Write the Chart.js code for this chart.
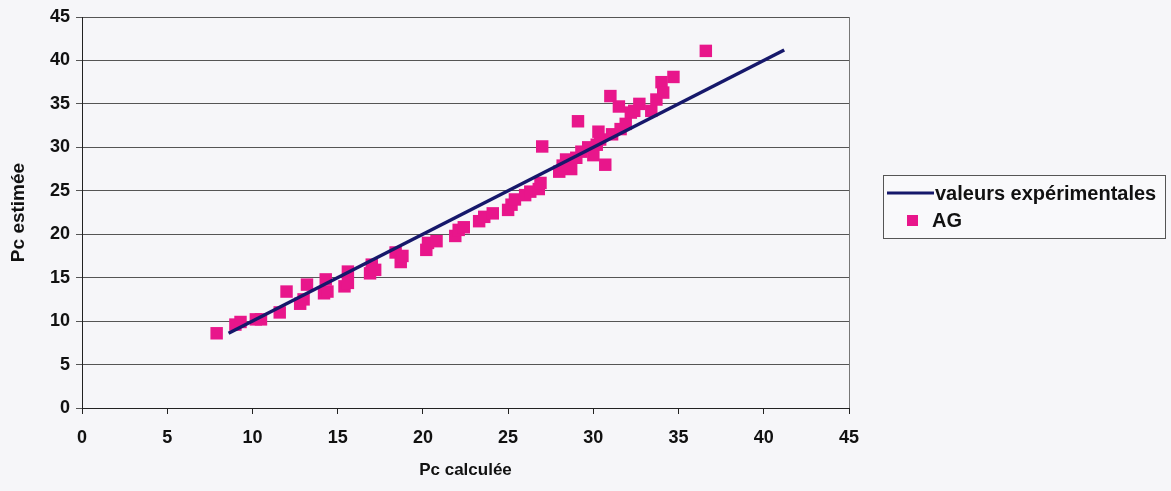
<!DOCTYPE html>
<html>
<head>
<meta charset="utf-8">
<script src="https://cdn.jsdelivr.net/npm/chart.js@4/dist/chart.umd.min.js"></script>
<style>
html,body{margin:0;padding:0;background:#f6f6f9;}
#wrap{width:1171px;height:491px;position:relative;}
</style>
</head>
<body>
<div id="wrap"><canvas id="c" width="1171" height="491"></canvas></div>
<script>
// ---- data ----
const lineLabel = "valeurs expérimentales";
const scatterLabel = "AG";
const lineX = [8.6, 41.2];
const lineY = [8.6, 41.2];
const agX = [7.9, 9.0, 9.3, 10.2, 10.5, 11.6, 12.0, 12.8, 13.0, 13.2, 14.2, 14.3, 14.4, 15.4, 15.6, 15.6,
  16.9, 17.0, 17.2, 18.4, 18.7, 18.8, 20.2, 20.3, 20.8, 21.9, 22.1, 22.4, 23.3, 23.6, 24.1, 25.0, 25.2, 25.4,
  26.0, 26.3, 26.8, 26.9, 27.0, 28.0, 28.2, 28.4, 28.7, 29.1, 29.0, 29.3, 29.7, 30.0, 30.2, 30.4, 30.3, 30.7,
  31.0, 31.1, 31.5, 31.6, 31.9, 32.2, 32.4, 32.7, 33.4, 33.7, 34.0, 34.1, 34.7, 36.6];
const agY = [8.6, 9.6, 9.9, 10.2, 10.2, 11.0, 13.4, 12.0, 12.5, 14.2, 13.2, 14.8, 13.4, 14.0, 15.7, 14.4,
  15.5, 16.5, 15.9, 17.9, 16.8, 17.5, 18.2, 19.0, 19.2, 19.8, 20.5, 20.8, 21.5, 22.0, 22.4, 22.8, 23.4, 24.0,
  24.5, 24.9, 25.2, 25.9, 30.1, 27.2, 27.9, 28.6, 27.5, 33.0, 28.8, 29.5, 30.0, 29.1, 30.3, 30.9, 31.8, 28.0,
  35.9, 31.5, 34.7, 32.1, 32.7, 34.0, 34.2, 35.0, 34.2, 35.5, 37.5, 36.3, 38.1, 41.1];
const xTicks = [0, 5, 10, 15, 20, 25, 30, 35, 40, 45];
const yTicks = [0, 5, 10, 15, 20, 25, 30, 35, 40, 45];
const xTitle = "Pc calculée";
const yTitle = "Pc estimée";

const lineColor = "#16186b";
const pink = "#e8168b";
const fontFam = "'Liberation Sans', Arial, sans-serif";

const toPts = (xs, ys) => xs.map((x, i) => ({x: x, y: ys[i]}));

const borderPlugin = {
  id: 'plotBorder',
  beforeDatasetsDraw(chart) {
    const a = chart.chartArea, ctx = chart.ctx;
    ctx.save();
    ctx.strokeStyle = '#777';
    ctx.lineWidth = 1;
    ctx.beginPath();
    ctx.moveTo(Math.round(a.right) + 0.5, a.top);
    ctx.lineTo(Math.round(a.right) + 0.5, a.bottom);
    ctx.stroke();
    ctx.restore();
  }
};

const legendPlugin = {
  id: 'boxLegend',
  afterDraw(chart) {
    const ctx = chart.ctx;
    const ds = chart.data.datasets;
    const bx = 883, by = 175, bw = 282, bh = 63;
    ctx.save();
    ctx.fillStyle = '#f9f9fb';
    ctx.fillRect(bx, by, bw, bh);
    ctx.strokeStyle = '#555';
    ctx.lineWidth = 1;
    ctx.strokeRect(bx + 0.5, by + 0.5, bw, bh);
    ctx.font = "bold 20px " + fontFam;
    ctx.textBaseline = 'middle';
    ctx.fillStyle = '#111';
    // line entry
    ctx.strokeStyle = ds[0].borderColor;
    ctx.lineWidth = 3;
    ctx.beginPath();
    ctx.moveTo(887, 193);
    ctx.lineTo(934, 193);
    ctx.stroke();
    ctx.fillText(ds[0].label, 935, 194);
    // scatter entry
    ctx.fillStyle = ds[1].backgroundColor;
    ctx.fillRect(907, 215, 11, 11);
    ctx.fillStyle = '#111';
    ctx.fillText(ds[1].label, 932, 221);
    ctx.restore();
  }
};

new Chart(document.getElementById('c'), {
  type: 'scatter',
  data: {
    datasets: [
      {
        label: lineLabel,
        data: toPts(lineX, lineY),
        showLine: true,
        borderColor: lineColor,
        backgroundColor: lineColor,
        borderWidth: 3.5,
        pointRadius: 0,
        order: 1
      },
      {
        label: scatterLabel,
        data: toPts(agX, agY),
        pointStyle: 'rect',
        pointRadius: 8.8,
        pointHoverRadius: 8.8,
        backgroundColor: pink,
        borderColor: pink,
        borderWidth: 0,
        order: 2
      }
    ]
  },
  options: {
    responsive: false,
    animation: false,
    events: [],
    layout: {padding: {left: 0, right: 322, top: 17, bottom: 0}},
    plugins: {legend: {display: false}, tooltip: {enabled: false}},
    scales: {
      x: {
        type: 'linear',
        min: 0, max: 45,
        afterBuildTicks: (s) => { s.ticks = xTicks.map(v => ({value: v})); },
        afterFit: (s) => { s.height = 83; },
        grid: {drawOnChartArea: false, drawTicks: true, tickLength: 6, color: '#222'},
        border: {color: '#222', width: 1},
        ticks: {color: '#111', font: {family: fontFam, size: 18, weight: 'bold'}, padding: 13, maxRotation: 0},
        title: {display: true, text: xTitle, color: '#111', font: {family: fontFam, size: 17, weight: 'bold'}, padding: {top: 4, bottom: 10}}
      },
      y: {
        type: 'linear',
        min: 0, max: 45,
        afterBuildTicks: (s) => { s.ticks = yTicks.map(v => ({value: v})); },
        afterFit: (s) => { s.width = 82; },
        grid: {drawOnChartArea: true, drawTicks: true, tickLength: 6, color: '#555', lineWidth: 1},
        border: {color: '#222', width: 1},
        ticks: {color: '#111', font: {family: fontFam, size: 18, weight: 'bold'}, padding: 6},
        title: {display: true, text: yTitle, color: '#111', font: {family: fontFam, size: 19, weight: 'bold'}, padding: {top: 7, bottom: 0}}
      }
    }
  },
  plugins: [borderPlugin, legendPlugin]
});
</script>
</body>
</html>
